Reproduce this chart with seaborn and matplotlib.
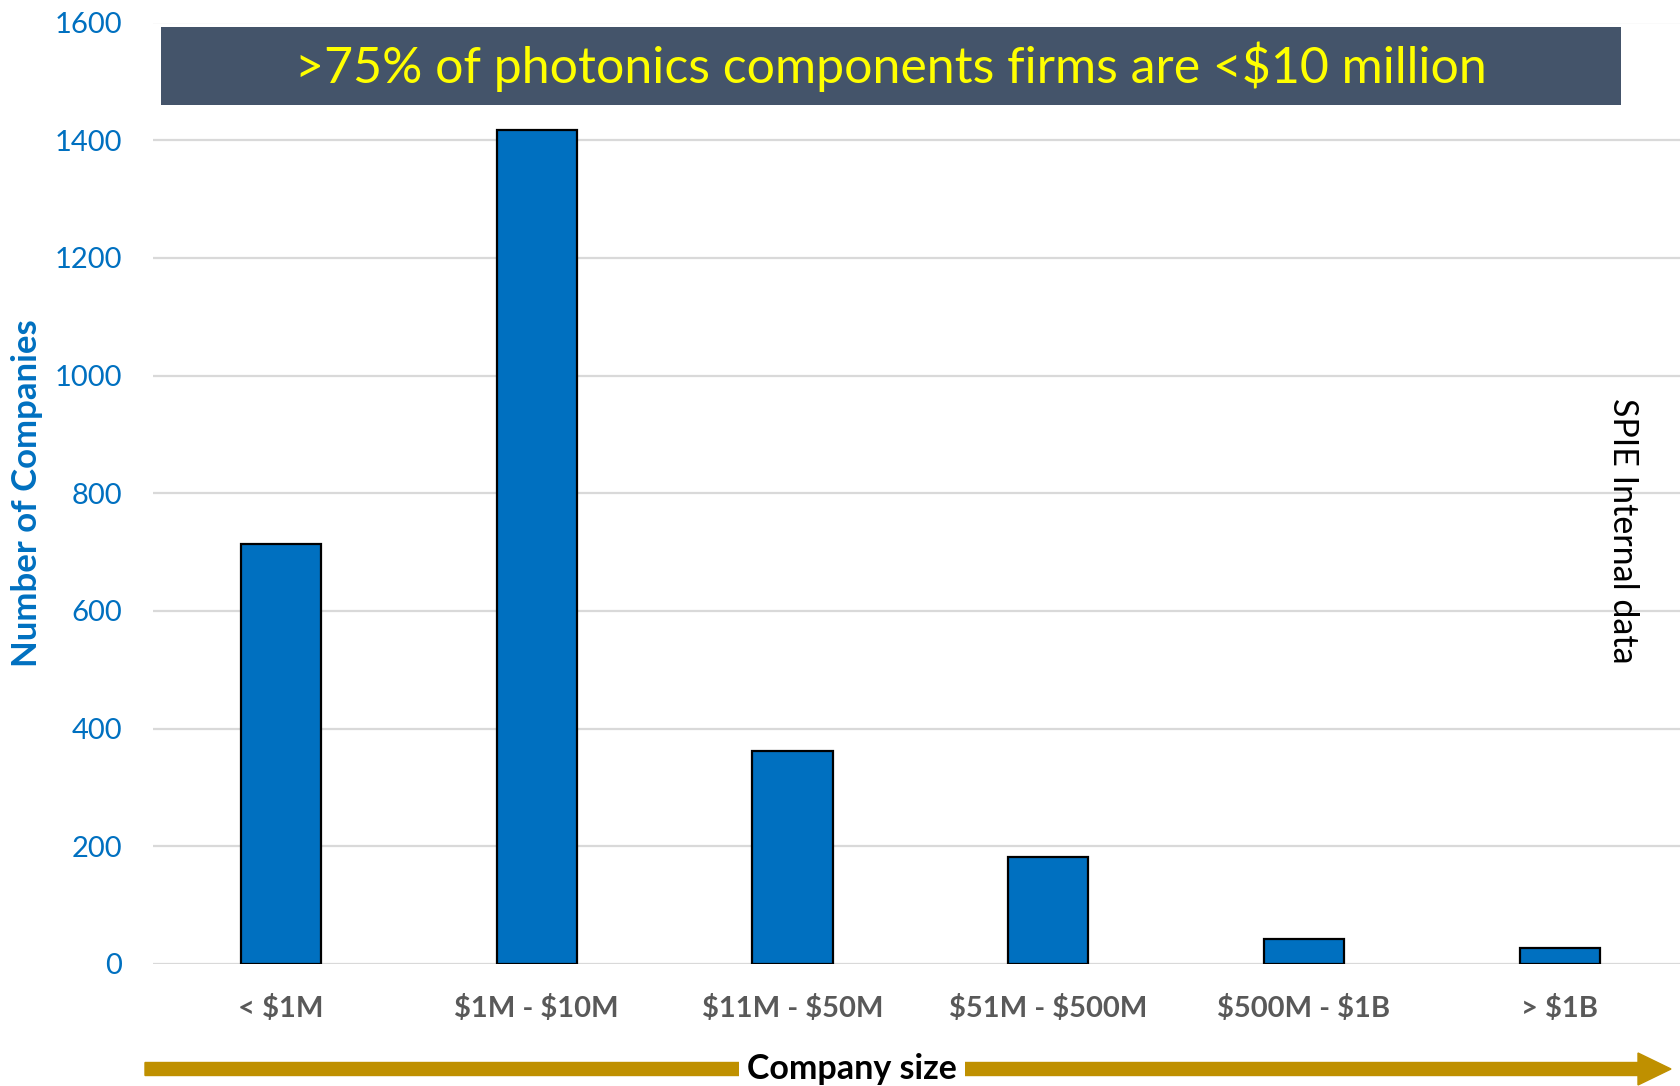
import matplotlib
matplotlib.use("Agg")
import matplotlib.pyplot as plt
import seaborn as sns
import pandas as pd
from matplotlib.patches import Rectangle, FancyArrow

categories = ["< $1M", "$1M - $10M", "$11M - $50M", "$51M - $500M", "$500M - $1B", "> $1B"]
companies = [714, 1417, 362, 182, 42, 27]
y_ticks = [0, 200, 400, 600, 800, 1000, 1200, 1400, 1600]

sns.set_theme(style="white")
plt.rcParams['font.family'] = ['Lato', 'DejaVu Sans']
plt.rcParams['text.parse_math'] = False

W, H = 1680, 1086
fig = plt.figure(figsize=(W / 100, H / 100), dpi=100)
ax = fig.add_axes([153 / W, 1 - 964 / H, (1680 - 153) / W, (964 - 22.5) / H])

df = pd.DataFrame({"size": categories, "count": companies})
sns.barplot(data=df, x="size", y="count", color="#0070C0", saturation=1,
            edgecolor="black", linewidth=1.6, width=0.314, ax=ax, zorder=3)

ax.set_xlim(-0.5, 5.47)
ax.set_ylim(0, 1600)
ax.set_yticks(y_ticks)
ax.set_yticklabels([str(t) for t in y_ticks])
ax.set_xticks(range(len(categories)))
ax.set_xticklabels(categories, fontweight="bold", fontsize=21, color="#595959")
ax.yaxis.grid(True, color="#D9D9D9", linewidth=1.6, zorder=0)
ax.xaxis.grid(False)
for s in ax.spines.values():
    s.set_visible(False)
ax.set_axisbelow(True)
ax.tick_params(axis="y", length=0, pad=22, labelsize=21, labelcolor="#0070C0")
ax.tick_params(axis="x", length=0, pad=22)
ax.set_xlabel("")
ax.set_ylabel("")
fig.text(27 / W, 1 - 493 / H, "Number of Companies", rotation=90, ha="center", va="center",
         fontsize=25, fontweight="bold", color="#0070C0")

# Banner
fig.add_artist(Rectangle((161 / W, 1 - 105 / H), (1621 - 161) / W, (105 - 27) / H,
                         transform=fig.transFigure, facecolor="#44546A", edgecolor="none", zorder=5))
fig.text((161 + 1621) / 2 / W, 1 - 67 / H, ">75% of photonics components firms are <$10 million",
         ha="center", va="center", color="#FFFF00", fontsize=36, zorder=6)

# Side note
fig.text(1623 / W, 1 - 531 / H, "SPIE Internal data", rotation=-90, ha="center", va="center",
         fontsize=24.5, color="black")

# Bottom arrow
yb = 1 - 1069 / H
fig.add_artist(FancyArrow(145 / W, yb, (1671 - 145) / W, 0, width=13 / H, head_width=32 / H,
                          head_length=33 / W, length_includes_head=True, transform=fig.transFigure,
                          color="#BF9000", zorder=5))
fig.text(852 / W, yb, "Company size", ha="center", va="center", fontsize=24.5, fontweight="bold",
         color="black", zorder=6,
         bbox=dict(facecolor="white", edgecolor="none", pad=6))

fig.savefig("out.png", dpi=100, facecolor="white")
